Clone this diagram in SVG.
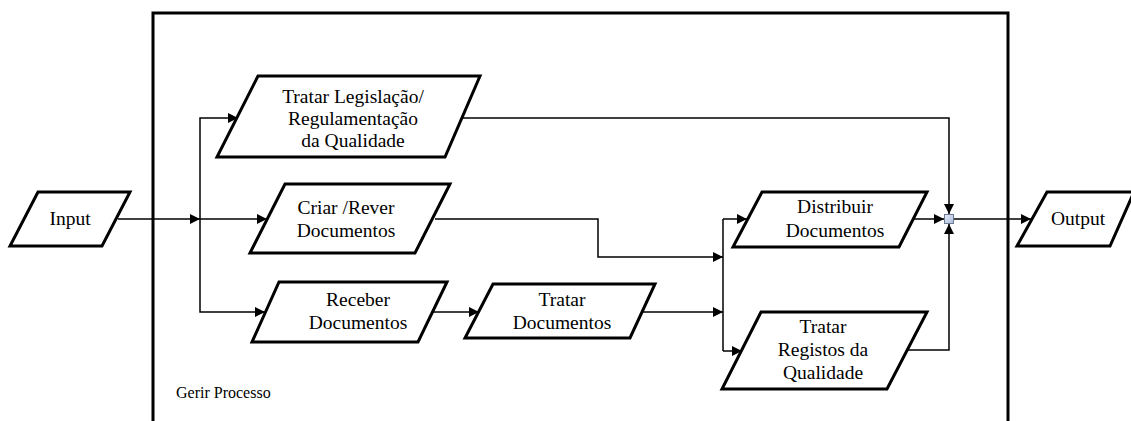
<svg xmlns="http://www.w3.org/2000/svg" width="1131" height="421" viewBox="0 0 1131 421">
  <defs>
    <marker id="arrowB" viewBox="0 0 10 10" refX="10" refY="5" markerWidth="10" markerHeight="10" markerUnits="userSpaceOnUse" orient="auto">
      <path d="M0,0 L10,5 L0,10 z" fill="#000"/>
    </marker>
    <linearGradient id="junc" x1="0" y1="0" x2="1" y2="1">
      <stop offset="0" stop-color="#e6ecf8"/>
      <stop offset="1" stop-color="#a9bbdc"/>
    </linearGradient>
  </defs>
  <style>
    .shape { fill: #fff; stroke: #000; stroke-width: 3; stroke-linejoin: miter; }
    .frame { fill: none; stroke: #000; stroke-width: 3; }
    .link { fill: none; stroke: #000; stroke-width: 1.5; }
    .lbl { font-size: 19.5px; fill: #000; text-anchor: middle; }
    .cap { font-size: 16px; fill: #000; }
  </style>

  <rect width="1131" height="421" fill="#fff"/>

  <g font-family="'Liberation Serif', 'Times New Roman', 'DejaVu Serif', serif">
  <!-- process boundary, open at the bottom -->
  <g id="gerir-processo">
    <path class="frame" d="M153,425 L153,13 L1008,13 L1008,425"/>
    <text class="cap" x="176" y="398">Gerir Processo</text>
  </g>

  <!-- connectors -->
  <g id="connectors">
    <path class="link" d="M118,219 L200,219" marker-end="url(#arrowB)"/>
    <path class="link" d="M200,219 L267,219" marker-end="url(#arrowB)"/>
    <path class="link" d="M200,219 L200,118 L238,118" marker-end="url(#arrowB)"/>
    <path class="link" d="M200,219 L200,312 L265,312" marker-end="url(#arrowB)"/>
    <path class="link" d="M432,312 L479,312" marker-end="url(#arrowB)"/>
    <path class="link" d="M435,219 L598,219 L598,257 L723,257" marker-end="url(#arrowB)"/>
    <path class="link" d="M640,312 L723,312" marker-end="url(#arrowB)"/>
    <path class="link" d="M723,219 L723,351"/>
    <path class="link" d="M723,219 L747,219" marker-end="url(#arrowB)"/>
    <path class="link" d="M723,351 L742,351" marker-end="url(#arrowB)"/>
    <path class="link" d="M912,219 L944,219" marker-end="url(#arrowB)"/>
    <path class="link" d="M462,118 L949,118 L949,214" marker-end="url(#arrowB)"/>
    <path class="link" d="M908,350 L949,350 L949,224" marker-end="url(#arrowB)"/>
    <path class="link" d="M954,219 L1031,219" marker-end="url(#arrowB)"/>
  </g>

  <g id="juncao">
    <rect x="944.5" y="214.5" width="9" height="9" fill="url(#junc)" stroke="#6b7a90" stroke-width="1"/>
  </g>

  <g id="input">
    <polygon class="shape" points="38,192 130,192 102,246 10,246"/>
    <text class="lbl" x="70" y="225">Input</text>
  </g>

  <g id="tratar-legislacao">
    <polygon class="shape" points="258,76 480,76 445,157 217,157"/>
    <text class="lbl" x="353" y="103">Tratar Legislação/</text>
    <text class="lbl" x="353" y="125">Regulamentação</text>
    <text class="lbl" x="353" y="147">da Qualidade</text>
  </g>

  <g id="criar-rever">
    <polygon class="shape" points="285,184 450,184 415,253 250,253"/>
    <text class="lbl" x="346" y="214">Criar /Rever</text>
    <text class="lbl" x="346" y="237">Documentos</text>
  </g>

  <g id="receber">
    <polygon class="shape" points="279,282 447,282 418,342 252,342"/>
    <text class="lbl" x="358" y="306">Receber</text>
    <text class="lbl" x="358" y="329">Documentos</text>
  </g>

  <g id="tratar-documentos">
    <polygon class="shape" points="493,284 655,284 630,338 465,338"/>
    <text class="lbl" x="562" y="306">Tratar</text>
    <text class="lbl" x="562" y="329">Documentos</text>
  </g>

  <g id="distribuir">
    <polygon class="shape" points="762,192 927,192 899,247 733,247"/>
    <text class="lbl" x="835" y="213">Distribuir</text>
    <text class="lbl" x="835" y="237">Documentos</text>
  </g>

  <g id="tratar-registos">
    <polygon class="shape" points="761,312 927,312 887,389 722,389"/>
    <text class="lbl" x="823" y="333">Tratar</text>
    <text class="lbl" x="823" y="356">Registos da</text>
    <text class="lbl" x="823" y="379">Qualidade</text>
  </g>

  <g id="output">
    <polygon class="shape" points="1047,192 1134,192 1110,246 1017,246"/>
    <text class="lbl" x="1078" y="225">Output</text>
  </g>
  </g>
</svg>
